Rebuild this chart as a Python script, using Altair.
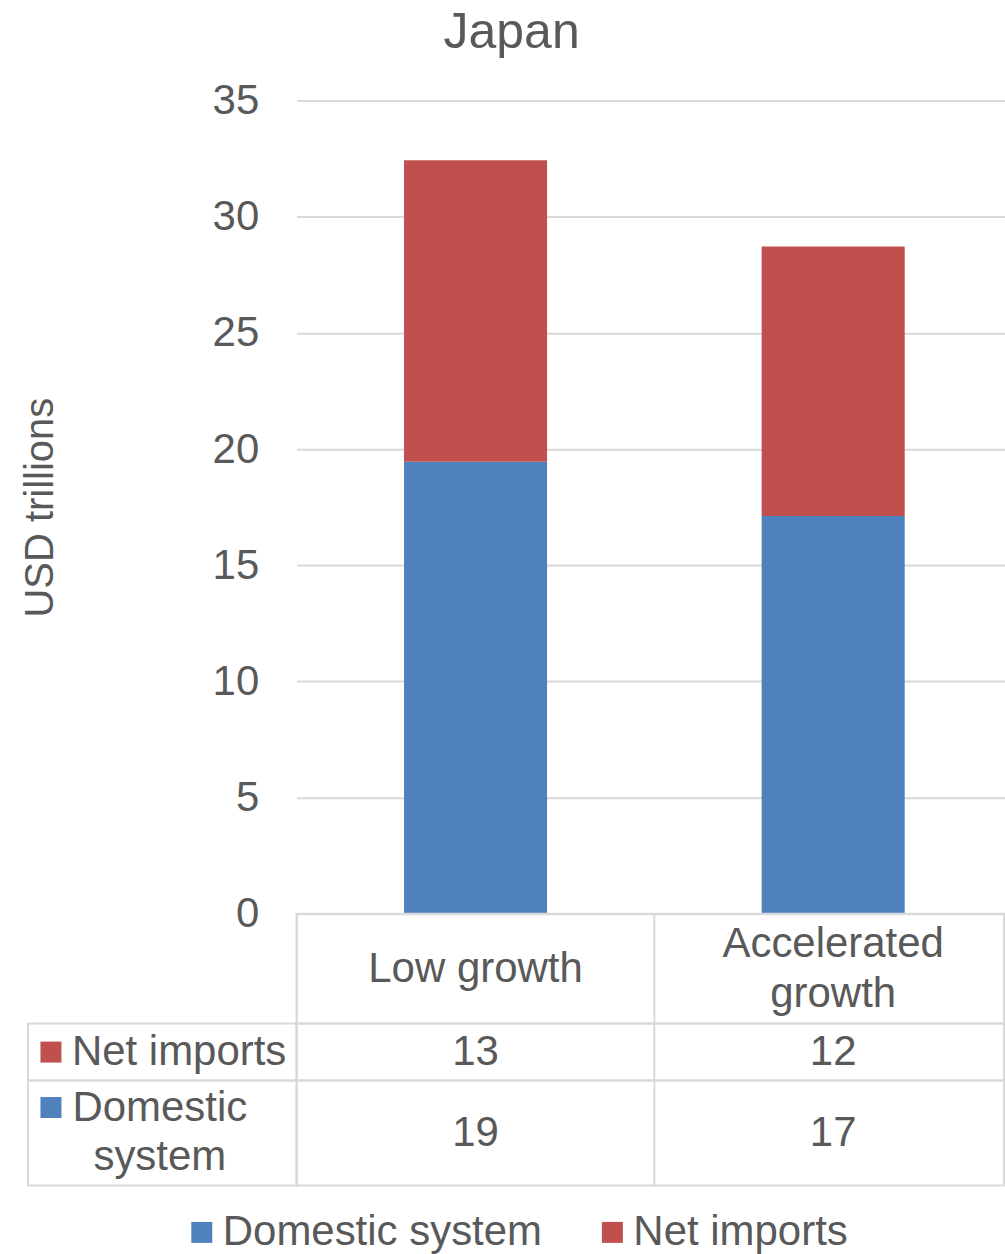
import altair as alt
import pandas as pd

# ---- data ----
categories = ["Low growth", "Accelerated growth"]
category_labels = ["Low growth", "Accelerated\ngrowth"]
series = ["Domestic system", "Net imports"]
series_labels = ["Domestic\nsystem", "Net imports"]
colors = ["#4F81BD", "#C0504D"]
domestic = [19.45, 17.12]
net_imports = [12.98, 11.60]
y_ticks = [0, 5, 10, 15, 20, 25, 30, 35]

rows = []
for i, c in enumerate(categories):
    rows.append({"scenario": c, "series": series[0], "value": domestic[i], "order": 0})
    rows.append({"scenario": c, "series": series[1], "value": net_imports[i], "order": 1})
df = pd.DataFrame(rows)
hdr = pd.DataFrame({"scenario": categories, "label": category_labels})
lab = pd.DataFrame({"series": series, "label": series_labels})

# ---- style ----
TEXT = "#595959"
GRID = "#d9d9d9"
FONT = "Liberation Sans"
FS = 42
LH = 50
PLOT_W = 708
X_RANGE = 716
PLOT_H = 814
LAB_W = 269
HDR_H = 110
NET_H = 57
DOM_H = 105

cell_view = alt.ViewBackground(stroke=GRID, strokeWidth=2)
no_view = alt.ViewBackground(strokeWidth=0)

xscale = alt.Scale(domain=categories, range=[0, X_RANGE], paddingInner=0.6, paddingOuter=0.3)
xtab = alt.Scale(domain=categories, range=[0, X_RANGE], paddingInner=0, paddingOuter=0)
cscale = alt.Scale(domain=series, range=colors)
legend = alt.Legend(orient="none", legendX=153, legendY=1112, direction="horizontal",
                    title=None, symbolType="square", symbolSize=441, symbolStrokeWidth=0,
                    labelFontSize=FS, labelColor=TEXT, labelFont=FONT, labelOffset=0,
                    columnPadding=49, padding=0, labelLimit=600)


def spacer(h):
    return alt.Chart(pd.DataFrame({"v": [0]})).mark_point(opacity=0).encode(
        x=alt.value(0), y=alt.value(0)
    ).properties(width=LAB_W, height=h, view=no_view)


def divider(data):
    return alt.Chart(data).mark_rule(color=GRID, strokeWidth=2).encode(
        x=alt.X("scenario:N", scale=xtab, sort=categories, bandPosition=0, axis=None)
    )


bars = alt.Chart(df).mark_bar().encode(
    x=alt.X("scenario:N", scale=xscale, sort=categories, axis=None),
    y=alt.Y("value:Q", stack="zero", scale=alt.Scale(domain=[0, 35], nice=False),
            axis=alt.Axis(values=y_ticks, grid=True, gridColor=GRID, gridWidth=2,
                          domain=False, ticks=False, labelPadding=38, labelFontSize=FS,
                          labelColor=TEXT, labelFont=FONT, title="USD trillions",
                          titleFontSize=40, titleColor=TEXT, titleFont=FONT,
                          titleFontWeight="normal", titlePadding=152)),
    color=alt.Color("series:N", scale=cscale, legend=legend),
    order=alt.Order("order:Q"),
).properties(width=PLOT_W, height=PLOT_H, view=no_view)

hdr_base = alt.Chart(hdr)
hdr_single = hdr_base.transform_filter("indexof(datum.label, '\\n') < 0").mark_text(
    fontSize=FS, color=TEXT, font=FONT, baseline="middle", align="center").encode(
    x=alt.X("scenario:N", scale=xtab, sort=categories, axis=None),
    y=alt.value(HDR_H / 2),
    text="label:N",
)
hdr_multi = hdr_base.transform_filter("indexof(datum.label, '\\n') >= 0").mark_text(
    fontSize=FS, color=TEXT, font=FONT, lineBreak="\n", lineHeight=LH,
    baseline="middle", align="center").encode(
    x=alt.X("scenario:N", scale=xtab, sort=categories, axis=None),
    y=alt.value(HDR_H / 2 - LH / 2),
    text="label:N",
)
header = alt.layer(divider(hdr), hdr_single, hdr_multi).properties(
    width=PLOT_W, height=HDR_H, view=cell_view)


def value_row(name, h):
    d = df[df.series == name]
    txt = alt.Chart(d).mark_text(
        fontSize=FS, color=TEXT, font=FONT, baseline="middle", align="center").encode(
        x=alt.X("scenario:N", scale=xtab, sort=categories, axis=None),
        y=alt.value(h / 2),
        text=alt.Text("value:Q", format=".0f"),
    )
    return alt.layer(divider(d), txt).properties(width=PLOT_W, height=h, view=cell_view)


def label_cell(name, h, sq_y, txt_x, txt_y, align):
    d = lab[lab.series == name]
    sq = alt.Chart(d).mark_square(size=441, opacity=1).encode(
        x=alt.value(23), y=alt.value(sq_y),
        color=alt.Color("series:N", scale=cscale, legend=legend),
    )
    tx = alt.Chart(d).mark_text(fontSize=FS, color=TEXT, font=FONT, lineBreak="\n",
                                lineHeight=LH, baseline="middle", align=align).encode(
        x=alt.value(txt_x), y=alt.value(txt_y), text="label:N",
    )
    return alt.layer(sq, tx).properties(width=LAB_W, height=h, view=cell_view)


net_lab = label_cell("Net imports", NET_H, NET_H / 2, 44, NET_H / 2, "left")
dom_lab = label_cell("Domestic system", DOM_H, 27, 132, 27, "center")
net_row = value_row("Net imports", NET_H)
dom_row = value_row("Domestic system", DOM_H)

chart = alt.concat(
    spacer(PLOT_H), bars,
    spacer(HDR_H), header,
    net_lab, net_row,
    dom_lab, dom_row,
    columns=2, spacing=0, bounds="flush", align="each",
    title=alt.Title("Japan", fontSize=50, color=TEXT, font=FONT, fontWeight="normal",
                    anchor="middle", offset=22, dx=-1),
).properties(
    padding={"left": 20, "top": 7, "right": 0, "bottom": 0}
).configure(font=FONT).configure_view(strokeWidth=0)

chart.save("out.html", embed_options={"renderer": "svg", "actions": False})
